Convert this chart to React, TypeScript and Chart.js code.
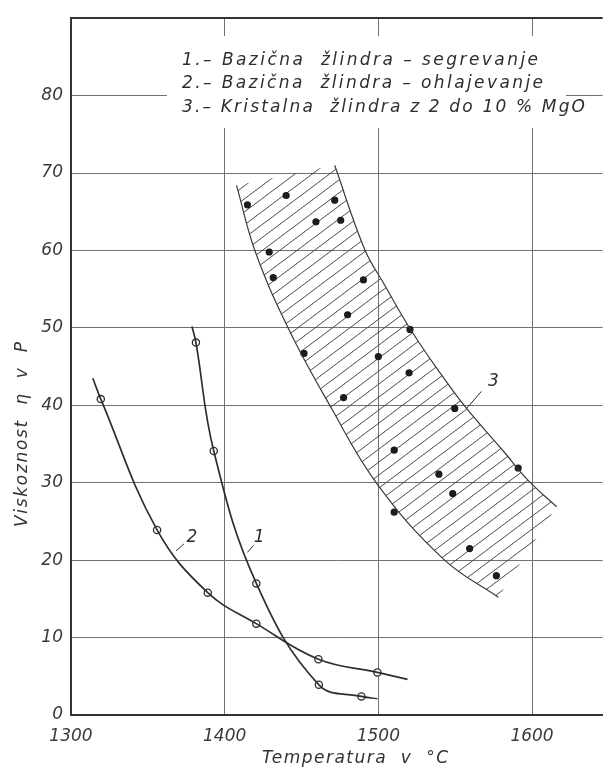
import { useEffect, useRef } from 'react';
import { Chart, registerables } from 'chart.js';

Chart.register(...registerables);

// ---------- axes ----------
const xTickValues = [1300, 1400, 1500, 1600];
const yTickValues = [0, 10, 20, 30, 40, 50, 60, 70, 80];
const xMin = 1300;
const xMax = 1646;
const yMin = 0;
const yMax = 90;

const xTitle = 'Temperatura  v  °C';
const yTitle = 'Viskoznost  η  v  P';
const legendLines = [
  '1.– Bazična  žlindra – segrevanje',
  '2.– Bazična  žlindra – ohlajevanje',
  '3.– Kristalna  žlindra z 2 do 10 % MgO',
];

// ---------- curve 1 (Bazična žlindra – segrevanje) ----------
const curve1LineX = [1378.7, 1381.3, 1392.9, 1420.6, 1461.3, 1489.0, 1499.4];
const curve1LineY = [50.2, 48.1, 34.1, 17.0, 3.9, 2.4, 2.1];
const curve1MarkX = [1381.3, 1392.9, 1420.6, 1461.3, 1489.0];
const curve1MarkY = [48.1, 34.1, 17.0, 3.9, 2.4];

// ---------- curve 2 (Bazična žlindra – ohlajevanje) ----------
const curve2LineX = [1314.2, 1319.4, 1356.0, 1389.0, 1420.6, 1461.0, 1499.4, 1519.0];
const curve2LineY = [43.5, 40.8, 23.9, 15.8, 11.8, 7.2, 5.5, 4.6];
const curve2MarkX = [1319.4, 1356.0, 1389.0, 1420.6, 1461.0, 1499.4];
const curve2MarkY = [40.8, 23.9, 15.8, 11.8, 7.2, 5.5];

// ---------- band 3 (Kristalna žlindra) ----------
const bandLeftX = [1407.7, 1420.0, 1441.3, 1468.4, 1499.4, 1542.6, 1578.1];
const bandLeftY = [68.4, 59.8, 50.0, 40.0, 29.8, 20.1, 15.2];
const bandRightX = [1471.6, 1491.0, 1503.9, 1521.9, 1542.6, 1557.4, 1581.3, 1598.0, 1616.0];
const bandRightY = [71.0, 60.2, 55.6, 49.5, 43.5, 39.6, 34.1, 30.2, 26.9];
const bandDotX = [1414.8, 1440.0, 1471.6, 1459.4, 1475.5, 1429.0, 1431.6, 1490.3, 1480.0, 1520.6, 1451.6, 1500.0, 1520.0, 1477.4, 1549.7, 1510.3, 1539.4, 1548.4, 1510.3, 1591.0, 1559.4, 1576.8];
const bandDotY = [65.9, 67.1, 66.5, 63.7, 63.9, 59.8, 56.5, 56.2, 51.7, 49.8, 46.7, 46.3, 44.2, 41.0, 39.6, 34.2, 31.1, 28.6, 26.2, 31.9, 21.5, 18.0];

// ---------- curve number labels ----------
const curveLabelText = ['1', '2', '3'];
const curveLabelX = [1422.5, 1378.7, 1574.8];
const curveLabelY = [22.9, 22.9, 43.1];
const leaderX1 = [1414.8, 1368.4, 1557.4];
const leaderY1 = [21.0, 21.2, 39.6];
const leaderX2 = [1418.7, 1373.5, 1567.1];
const leaderY2 = [21.9, 22.1, 41.8];

const pts = (xs: number[], ys: number[]) => xs.map((x, i) => ({ x, y: ys[i] }));

const FONT = 'DejaVu Sans';
const INK = '#2e2e2e';
const SMOOTH = 0.4;

function spacedText(ctx: CanvasRenderingContext2D, text: string, x: number, y: number, target: number) {
  (ctx as any).letterSpacing = '0px';
  const w = ctx.measureText(text).width;
  const n = Array.from(text).length;
  const ls = n > 1 ? (target - w) / (n - 1) : 0;
  (ctx as any).letterSpacing = ls + 'px';
  ctx.fillText(text, x, y);
  (ctx as any).letterSpacing = '0px';
}

export default function App() {
  const ref = useRef<HTMLCanvasElement>(null);

  useEffect(() => {
    const canvas = ref.current!;

    const overlay = {
      id: 'overlay',
      beforeDatasetsDraw(chart: any) {
        const ctx = chart.ctx as CanvasRenderingContext2D;
        const area = chart.chartArea;
        // legend box (white) covering grid
        ctx.save();
        ctx.fillStyle = '#ffffff';
        ctx.fillRect(167, 36, 399, 92);
        ctx.fillStyle = INK;
        ctx.font = `italic 17px "${FONT}"`;
        ctx.textBaseline = 'alphabetic';
        ctx.textAlign = 'left';
        spacedText(ctx, legendLines[0], 182, 65, 356);
        spacedText(ctx, legendLines[1], 182, 88, 361);
        spacedText(ctx, legendLines[2], 182, 112, 403);
        ctx.restore();

        // hatched band between the two boundary lines
        const lineL = chart.getDatasetMeta(0).dataset;
        const lineR = chart.getDatasetMeta(1).dataset;
        ctx.save();
        ctx.beginPath();
        lineL.pathSegment(ctx, lineL.segments[0], { move: true });
        lineR.pathSegment(ctx, lineR.segments[0], { move: false, reverse: true });
        ctx.closePath();
        ctx.clip();
        ctx.strokeStyle = '#4a4a4a';
        ctx.lineWidth = 1;
        const slope = 0.75;
        const step = 13;
        for (let c = area.top; c < area.bottom + slope * area.right + 50; c += step) {
          ctx.beginPath();
          ctx.moveTo(area.left, c - slope * area.left);
          ctx.lineTo(area.right, c - slope * area.right);
          ctx.stroke();
        }
        ctx.restore();
      },
      afterDatasetsDraw(chart: any) {
        const ctx = chart.ctx as CanvasRenderingContext2D;
        const xs = chart.scales.x;
        const ys = chart.scales.y;
        ctx.save();
        ctx.strokeStyle = INK;
        ctx.lineWidth = 1;
        ctx.fillStyle = INK;
        ctx.font = `italic 17px "${FONT}"`;
        ctx.textAlign = 'center';
        ctx.textBaseline = 'middle';
        for (let i = 0; i < curveLabelText.length; i++) {
          ctx.beginPath();
          ctx.moveTo(xs.getPixelForValue(leaderX1[i]), ys.getPixelForValue(leaderY1[i]));
          ctx.lineTo(xs.getPixelForValue(leaderX2[i]), ys.getPixelForValue(leaderY2[i]));
          ctx.stroke();
          ctx.fillText(curveLabelText[i], xs.getPixelForValue(curveLabelX[i]), ys.getPixelForValue(curveLabelY[i]));
        }
        // axis titles
        ctx.fillStyle = '#333';
        ctx.textAlign = 'left';
        ctx.textBaseline = 'middle';
        ctx.font = `italic 17px "${FONT}"`;
        spacedText(ctx, xTitle, 262, 759, 186);
        ctx.translate(23, 435);
        ctx.rotate(-Math.PI / 2);
        spacedText(ctx, yTitle, -92, 0, 185);
        ctx.restore();
      },
    };

    const tickFont = { family: FONT, size: 17, style: 'italic' as const };

    const lineDs = (label: string, xs: number[], ys: number[], color: string, width: number) => ({
      label,
      data: pts(xs, ys),
      showLine: true,
      borderColor: color,
      borderWidth: width,
      pointRadius: 0,
      tension: SMOOTH,
    });

    const chart = new Chart(canvas, {
      type: 'scatter',
      data: {
        datasets: [
          lineDs('band-left', bandLeftX, bandLeftY, '#3a3a3a', 1.2),
          lineDs('band-right', bandRightX, bandRightY, '#3a3a3a', 1.2),
          lineDs('curve1', curve1LineX, curve1LineY, INK, 1.7),
          lineDs('curve2', curve2LineX, curve2LineY, INK, 1.7),
          {
            label: 'band-dots',
            data: pts(bandDotX, bandDotY),
            pointRadius: 3.6,
            backgroundColor: '#1c1c1c',
            borderWidth: 0,
          },
          {
            label: 'curve1-marks',
            data: pts(curve1MarkX, curve1MarkY),
            pointRadius: 3.6,
            backgroundColor: '#ffffff',
            borderColor: INK,
            borderWidth: 1.3,
          },
          {
            label: 'curve2-marks',
            data: pts(curve2MarkX, curve2MarkY),
            pointRadius: 3.6,
            backgroundColor: '#ffffff',
            borderColor: INK,
            borderWidth: 1.3,
          },
        ],
      },
      options: {
        animation: false,
        responsive: false,
        events: [],
        layout: { padding: { top: 13, left: 0, right: 0, bottom: 0 } },
        plugins: { legend: { display: false }, tooltip: { enabled: false } },
        scales: {
          x: {
            type: 'linear',
            min: xMin,
            max: xMax,
            afterBuildTicks: (s: any) => {
              s.ticks = xTickValues.map((v) => ({ value: v }));
            },
            afterFit: (s: any) => {
              s.height = 57;
            },
            grid: { color: '#707070', lineWidth: 1, drawTicks: false },
            border: { display: true, color: '#333', width: 2 },
            ticks: {
              font: tickFont,
              color: '#3a3a3a',
              padding: 11,
              maxRotation: 0,
              autoSkip: false,
              callback: (v: any) => String(v),
            },
          },
          y: {
            type: 'linear',
            min: yMin,
            max: yMax,
            afterBuildTicks: (s: any) => {
              s.ticks = [...yTickValues, yMax].map((v) => ({ value: v }));
            },
            afterFit: (s: any) => {
              s.width = 71;
            },
            grid: {
              color: (c: any) => (c.tick && c.tick.value === yMax ? '#333' : '#707070'),
              lineWidth: (c: any) => (c.tick && c.tick.value === yMax ? 2 : 1),
              drawTicks: false,
            },
            border: { display: true, color: '#333', width: 2 },
            ticks: {
              font: tickFont,
              color: '#3a3a3a',
              padding: 8,
              autoSkip: false,
              callback: (v: any) => (v === yMax ? '' : String(v)),
            },
          },
        },
      },
      plugins: [overlay],
    } as any);

    return () => chart.destroy();
  }, []);

  return (
    <div style={{ position: 'fixed', left: 0, top: 0, width: 608, height: 772, background: '#fff' }}>
      <canvas ref={ref} width={608} height={772} style={{ display: 'block' }} />
    </div>
  );
}
